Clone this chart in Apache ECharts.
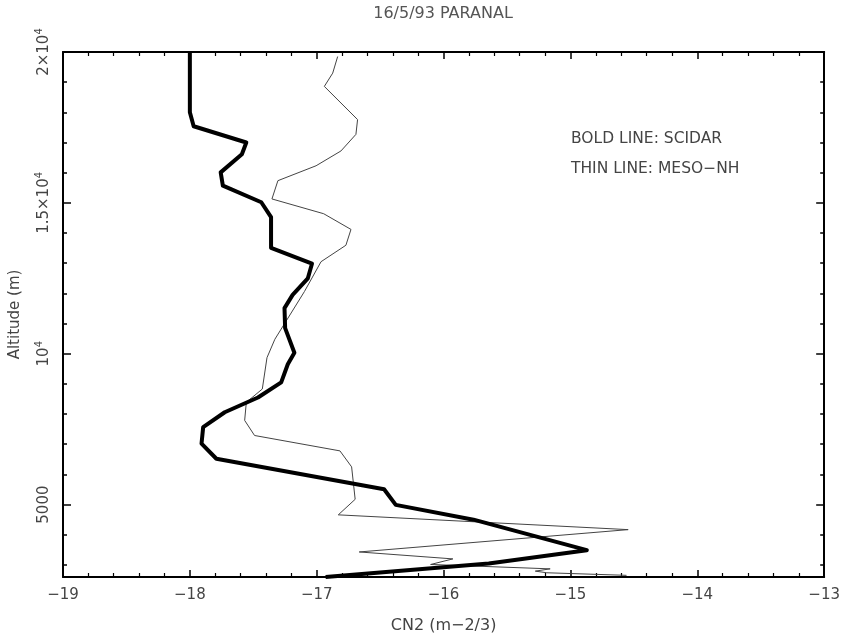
<!DOCTYPE html>
<html>
<head>
<meta charset="utf-8">
<script src="https://cdn.jsdelivr.net/npm/echarts@6/dist/echarts.min.js"></script>
<style>
  html, body { margin: 0; padding: 0; background: #fff; }
  #chart { width: 843px; height: 639px; }
</style>
</head>
<body>
<div id="chart"></div>
<script>
// SCIDAR profile (bold line): log10 CN2 vs altitude (m)
const scidarCn2 = [-18.0, -18.0, -17.97, -17.555, -17.59, -17.757, -17.74, -17.437, -17.36, -17.36,
  -17.037, -17.07, -17.19, -17.254, -17.249, -17.176, -17.228, -17.28, -17.463, -17.725,
  -17.895, -17.908, -17.791, -16.469, -16.377, -15.764, -14.871, -15.644, -16.93];
const scidarAlt = [20000, 18000, 17540, 17000, 16610, 16010, 15570, 15020, 14530, 13510,
  12990, 12500, 11950, 11510, 10850, 10030, 9650, 9050, 8550, 8060,
  7570, 7020, 6520, 5510, 4990, 4500, 3490, 3050, 2600];

// MESO-NH profile (thin line)
const mesoCn2 = [-16.835, -16.874, -16.94, -16.678, -16.691, -16.809, -17.005, -17.306, -17.353, -16.945,
  -16.73, -16.77, -16.966, -17.097, -17.33, -17.392, -17.429, -17.555, -17.568, -17.49,
  -16.817, -16.725, -16.697, -16.83, -14.545, -16.665, -15.927, -16.102, -15.16, -15.277,
  -15.186, -14.558];
const mesoAlt = [19850, 19300, 18860, 17760, 17270, 16720, 16230, 15735, 15130, 14640,
  14120, 13595, 13050, 12060, 10480, 9870, 8830, 8390, 7790, 7290,
  6780, 6250, 5175, 4660, 4170, 3430, 3200, 3015, 2870, 2795,
  2740, 2655];

const yMajorTicks = [5000, 10000, 15000, 20000];
const yMinorTicks = [3000, 4000, 6000, 7000, 8000, 9000, 11000, 12000, 13000, 14000, 16000, 17000, 18000, 19000];
const yTickLabels = {5000: '{b|5000}', 10000: '{b|10}{s|4}', 15000: '{b|1.5×10}{s|4}', 20000: '{b|2×10}{s|4}'};

const pair = (xs, ys) => xs.map((x, i) => [x, ys[i]]);

const FONT = 'DejaVu Sans';
const TXT = '#444';
const yMin = 2600, yMax = 20000;

const chart = echarts.init(document.getElementById('chart'), null, {renderer: 'canvas'});

function xAx(pos, showLabel) {
  return {
    type: 'value', position: pos, min: -19, max: -13, interval: 1,
    axisLine: {show: true, onZero: false, lineStyle: {color: '#000', width: 2}},
    axisTick: {show: true, inside: true, length: 7, lineStyle: {color: '#000', width: 1.5}},
    minorTick: {show: true, splitNumber: 5, length: 4, lineStyle: {color: '#000', width: 1.2}},
    splitLine: {show: false},
    axisLabel: {show: showLabel, margin: 11, color: TXT, fontFamily: FONT, fontSize: 15,
      formatter: v => String(v).replace('-', '\u2212')},
    name: showLabel ? 'CN2 (m\u22122/3)' : '', nameLocation: 'middle', nameGap: 41,
    nameTextStyle: {color: TXT, fontFamily: FONT, fontSize: 16}
  };
}

function yAx(pos, ticks, len, withLine, withLabel) {
  return {
    type: 'value', position: pos, min: yMin, max: yMax,
    axisLine: {show: withLine, onZero: false, lineStyle: {color: '#000', width: 2}},
    axisTick: {show: true, inside: true, length: len, customValues: ticks, lineStyle: {color: '#000', width: 1.5}},
    splitLine: {show: false},
    axisLabel: withLabel ? {
      show: true, customValues: ticks, rotate: 90, margin: 9, color: TXT, fontFamily: FONT, fontSize: 15,
      formatter: v => yTickLabels[v] || '',
      rich: {
        b: {fontFamily: FONT, fontSize: 15, color: TXT, lineHeight: 20},
        s: {fontFamily: FONT, fontSize: 10, color: TXT, verticalAlign: 'top', lineHeight: 20}
      }
    } : {show: false},
    name: withLabel ? 'Altitude (m)' : '', nameLocation: 'middle', nameGap: 40, nameRotate: 90,
    nameTextStyle: {color: TXT, fontFamily: FONT, fontSize: 15}
  };
}

chart.setOption({
  animation: false,
  backgroundColor: '#fff',
  grid: {left: 61, right: 18, top: 52, bottom: 58, containLabel: false},
  xAxis: [xAx('bottom', true), xAx('top', false)],
  yAxis: [
    yAx('left', yMajorTicks, 8, true, true),
    yAx('left', yMinorTicks, 4, false, false),
    yAx('right', yMajorTicks, 8, true, false),
    yAx('right', yMinorTicks, 4, false, false)
  ],
  graphic: [
    {type: 'text', x: 443, y: 14, style: {text: '16/5/93 PARANAL', fill: '#555', font: '16px "DejaVu Sans"', align: 'center', verticalAlign: 'middle'}},
    {type: 'text', x: 571, y: 139, style: {text: 'BOLD LINE: SCIDAR', fill: TXT, font: '15.5px "DejaVu Sans"', align: 'left', verticalAlign: 'middle'}},
    {type: 'text', x: 571, y: 169, style: {text: 'THIN LINE: MESO\u2212NH', fill: TXT, font: '15.5px "DejaVu Sans"', align: 'left', verticalAlign: 'middle'}}
  ],
  series: [
    {type: 'line', name: 'MESO-NH', xAxisIndex: 0, yAxisIndex: 0, data: pair(mesoCn2, mesoAlt),
      showSymbol: false, lineStyle: {color: '#444', width: 1}, z: 2},
    {type: 'line', name: 'SCIDAR', xAxisIndex: 0, yAxisIndex: 0, data: pair(scidarCn2, scidarAlt),
      showSymbol: false, lineStyle: {color: '#000', width: 4, join: 'round'}, z: 3}
  ]
});
</script>
</body>
</html>
